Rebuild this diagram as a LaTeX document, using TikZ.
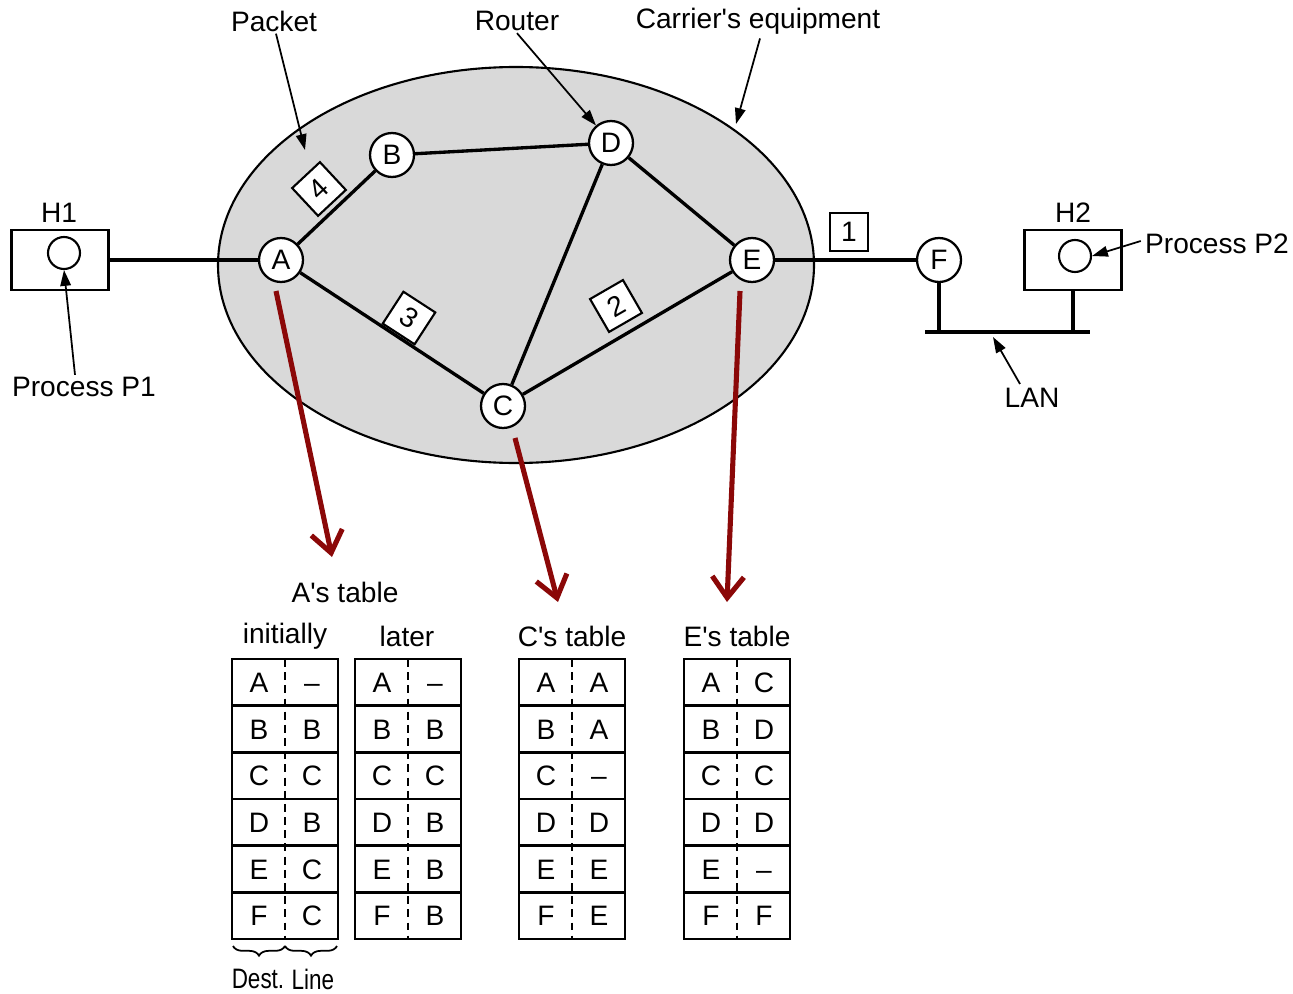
\documentclass[tikz,border=0pt]{standalone}
\usepackage{fontspec}
\usepackage{graphicx}
\setmainfont{Liberation Sans}
\usetikzlibrary{arrows.meta,decorations.pathreplacing,calc}
\definecolor{netgray}{RGB}{217,217,217}
\definecolor{darkred}{RGB}{139,8,8}
\newcommand\rtbl[3]{%
  \draw[line width=1.35pt] (#1,659) rectangle ++(106,280);
  \foreach \i in {1,...,5} \draw[line width=1.35pt] (#1,659+46.667*\i) -- ++(106,0);
  \draw[line width=1pt, dash pattern=on 4.5pt off 3pt] (#1+53,659) -- ++(0,280);
  \foreach \d/\l [count=\k] in {#3} {
    \node[cell] (#2-\k-d) at (#1+27,659+46.667*\k-23.33) {\d};
    \node[cell] (#2-\k-l) at (#1+80,659+46.667*\k-23.33) {\l};
  }%
}
\begin{document}
\begin{tikzpicture}[x=0.02cm,y=-0.02cm,
  every node/.style={font=\fontsize{16}{19}\selectfont},
  lbl/.style={inner sep=0pt},
  router/.style={circle,draw,fill=white,line width=1.3pt,minimum size=0.88cm,inner sep=0pt},
  link/.style={line width=1.9pt},
  hostbox/.style={draw,line width=1.2pt,minimum width=1.94cm,minimum height=1.2cm,inner sep=0pt},
  proc/.style={circle,draw,line width=1.2pt,minimum size=0.64cm,inner sep=0pt},
  pkt/.style={draw,fill=white,line width=1.2pt,minimum size=0.76cm,inner sep=0pt},
  ptr/.style={line width=1pt,-{Triangle[length=9pt,width=6pt]}},
  redarr/.style={draw=darkred,line width=2.9pt,-{Straight Barb[length=12pt,width=18pt]}},
  cell/.style={inner sep=0pt,text height=11.5pt,text depth=0pt},
]
\useasboundingbox (0,0) rectangle (1293,993);

% carrier's network
\draw[fill=netgray,line width=1.2pt] (516,265) ellipse [x radius=298, y radius=198];

% routers
\node[router] (A) at (281,260) {A};
\node[router] (B) at (392,155) {B};
\node[router] (D) at (611,143) {D};
\node[router] (E) at (752,260) {E};
\node[router] (C) at (503,406) {C};
\node[router] (F) at (939,260) {F};

% hosts
\node[hostbox] (h1) at (60,260) {};
\node[proc] (c1) at (64,253) {};
\node[hostbox] (h2) at (1073,260) {};
\node[proc] (c2) at (1075,256) {};

% links
\draw[link] (A) -- (B);
\draw[link] (B) -- (D);
\draw[link] (D) -- (E);
\draw[link] (D) -- (C);
\draw[link] (A) -- (C);
\draw[link] (C) -- (E);
\draw[link] (E) -- (F);
\draw[link] (h1.east) -- (A);

% LAN
\coordinate (lanL) at (925,332);
\coordinate (lanR) at (1090,332);
\draw[line width=2pt] (lanL) -- (lanR);
\draw[line width=2pt] (F.south) -- (F.south |- lanL);
\draw[line width=2pt] (h2.south) -- (h2.south |- lanL);

% packets
\node[pkt] (p1) at (849,232) {1};
\node[pkt,rotate=-33] (p3) at (409,318) {3};
\node[pkt,rotate=30] (p2) at (616,306) {2};
\node[pkt,rotate=43] (p4) at (319,189) {4};

% labels
\node[lbl] (lblPacket) at (274,21) {Packet};
\node[lbl] (lblRouter) at (517,21) {Router};
\node[lbl] (lblCarrier) at (758,21) {Carrier\textquotesingle s equipment};
\node[lbl] (lblH1) at (59,213) {H1};
\node[lbl] (lblH2) at (1073,213) {H2};
\node[lbl] (lblP1) at (84,387) {Process P1};
\node[lbl] (lblP2) at (1217,244) {Process P2};
\node[lbl] (lblLAN) at (1032,398) {LAN};

% pointers
\coordinate (pktTip) at (305,150);
\draw[ptr] (lblPacket.south) ++(2,2) -- (pktTip);
\draw[ptr] ($(lblRouter.south)+(0,2)$) -- (D);
\coordinate (carTip) at (736,124);
\draw[ptr] ($(lblCarrier.south)+(2,4)$) -- (carTip);
\draw[ptr] ($(lblP1.north)+(-9,-2)$) -- (c1.south);
\draw[ptr] ($(lblP2.west)+(-4,-3)$) -- (c2.east);
\coordinate (lanTip) at (993,337);
\draw[ptr] ($(lblLAN.north)+(-12,-4)$) -- (lanTip);

% red arrows to tables
\coordinate (aS) at (276,291);
\coordinate (aT) at (332,557);
\coordinate (cS) at (515,438);
\coordinate (cT) at (558,602);
\coordinate (eS) at (740,291);
\coordinate (eT) at (727,602);
\draw[redarr] (aS) -- (aT);
\draw[redarr] (cS) -- (cT);
\draw[redarr] (eS) -- (eT);

% table titles
\node[lbl] (lblAt) at (345,592) {A\textquotesingle s table};
\node[lbl] (lblInit) at (285,636) {initially};
\node[lbl] (lblLater) at (407,636) {later};
\node[lbl] (lblCt) at (572,636) {C\textquotesingle s table};
\node[lbl] (lblEt) at (737,636) {E\textquotesingle s table};

% tables
\rtbl{232}{tai}{A/--,B/B,C/C,D/B,E/C,F/C}
\rtbl{355}{tal}{A/--,B/B,C/C,D/B,E/B,F/B}
\rtbl{519}{tc}{A/A,B/A,C/--,D/D,E/E,F/E}
\rtbl{684}{te}{A/C,B/D,C/C,D/D,E/--,F/F}

% braces
\coordinate (br0) at (233,946);
\coordinate (br1) at (285,946);
\coordinate (br2) at (337,946);
\draw[line width=1pt,decorate,decoration={brace,mirror,amplitude=5.5pt}] (br0) -- (br1);
\draw[line width=1pt,decorate,decoration={brace,mirror,amplitude=5.5pt}] (br1) -- (br2);
\node[lbl] (lblDest) at (258,979) {\scalebox{0.8}[1]{Dest.}};
\node[lbl] (lblLine) at (313,979) {\scalebox{0.8}[1]{Line}};
\end{tikzpicture}
\end{document}
